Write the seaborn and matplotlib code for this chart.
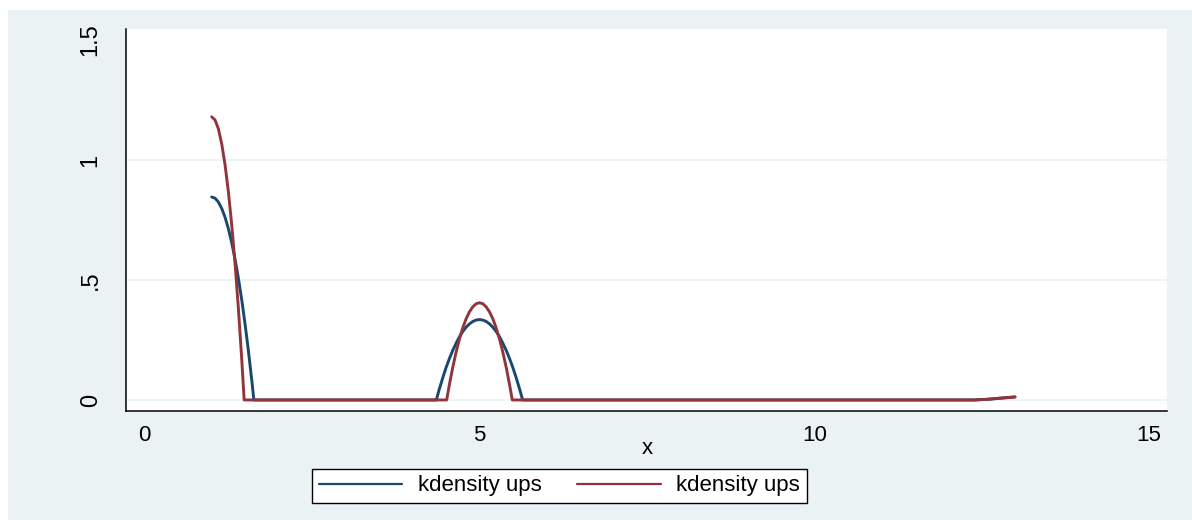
import matplotlib
matplotlib.use("Agg")
import matplotlib.pyplot as plt
from matplotlib.patches import Rectangle
from matplotlib.lines import Line2D
import seaborn as sns
import pandas as pd

# ---- data ----
blue_x = [1.00, 1.05, 1.10, 1.15, 1.20, 1.25, 1.30, 1.35, 1.40, 1.45, 1.50, 1.55, 1.60, 1.63,
          4.355, 4.40, 4.45, 4.50, 4.55, 4.60, 4.65, 4.70, 4.75, 4.80, 4.85, 4.90, 4.95, 5.00,
          5.05, 5.10, 5.15, 5.20, 5.25, 5.30, 5.35, 5.40, 5.45, 5.50, 5.55, 5.60, 5.645,
          12.40, 12.60, 12.80, 13.00]
blue_y = [0.846, 0.841, 0.825, 0.798, 0.761, 0.713, 0.654, 0.585, 0.505, 0.415, 0.313, 0.201, 0.079, 0.0,
          0.0, 0.045, 0.091, 0.134, 0.172, 0.206, 0.236, 0.263, 0.285, 0.303, 0.317, 0.327, 0.333, 0.335,
          0.333, 0.327, 0.317, 0.303, 0.285, 0.263, 0.236, 0.206, 0.172, 0.134, 0.091, 0.045, 0.0,
          0.0, 0.003, 0.008, 0.013]

red_x = [1.00, 1.05, 1.10, 1.15, 1.20, 1.25, 1.30, 1.35, 1.40, 1.45, 1.485,
         4.51, 4.55, 4.60, 4.65, 4.70, 4.75, 4.80, 4.85, 4.90, 4.95, 5.00,
         5.05, 5.10, 5.15, 5.20, 5.25, 5.30, 5.35, 5.40, 5.45, 5.49,
         12.40, 12.60, 12.80, 13.00]
red_y = [1.180, 1.167, 1.130, 1.067, 0.979, 0.866, 0.728, 0.565, 0.377, 0.165, 0.0,
         0.0, 0.063, 0.135, 0.198, 0.253, 0.300, 0.338, 0.367, 0.388, 0.401, 0.405,
         0.401, 0.388, 0.367, 0.338, 0.300, 0.253, 0.198, 0.135, 0.063, 0.0,
         0.0, 0.003, 0.008, 0.012]

series_labels = ["kdensity ups", "kdensity ups"]
x_ticks = [0, 5, 10, 15]
x_tick_labels = ["0", "5", "10", "15"]
y_ticks = [0, 0.5, 1, 1.5]
y_tick_labels = ["0", ".5", "1", "1.5"]
x_label = "x"

# ---- style ----
sns.set_style("white")
plt.rcParams["font.family"] = ["Liberation Sans", "DejaVu Sans"]
plt.rcParams["text.color"] = "black"
plt.rcParams["xtick.color"] = "black"
plt.rcParams["ytick.color"] = "black"
plt.rcParams["axes.labelcolor"] = "black"

NAVY = "#1A476F"
MAROON = "#90353B"
BG = "#EAF2F3"

W, H = 1192, 520
fig = plt.figure(figsize=(W / 100, H / 100), dpi=100, facecolor="white")
fig.patches.append(Rectangle((8 / W, 0), (W - 8) / W, (H - 10) / H,
                             transform=fig.transFigure, facecolor=BG,
                             edgecolor="none", zorder=-10))

ax = fig.add_axes([126 / W, 109 / H, (1167 - 126) / W, (411 - 29) / H])
ax.set_facecolor("white")

for v in [0, 0.5, 1]:
    ax.axhline(v, color=BG, lw=1.2, zorder=0)

df_b = pd.DataFrame({"x": blue_x, "y": blue_y})
df_r = pd.DataFrame({"x": red_x, "y": red_y})
sns.lineplot(data=df_b, x="x", y="y", color=NAVY, lw=2.1, sort=False,
             estimator=None, ax=ax, legend=False)
sns.lineplot(data=df_r, x="x", y="y", color=MAROON, lw=2.1, sort=False,
             estimator=None, ax=ax, legend=False)

ax.set_xlim(-0.28, 15.27)
ax.set_ylim(-0.046, 1.546)
ax.set_xticks(x_ticks)
ax.set_xticklabels(x_tick_labels, fontsize=16)
ax.set_yticks(y_ticks)
ax.set_yticklabels(y_tick_labels, fontsize=17, rotation=90, va="center")
ax.tick_params(axis="x", direction="out", length=5, width=1, color="black", pad=5)
ax.tick_params(axis="y", direction="out", length=8.5, width=1, color="black", pad=9)

ax.set_xlabel("")
ax.set_ylabel("")
fig.text(647 / W, 1 - 449 / H, x_label, ha="center", va="center", fontsize=16)

for s in ["top", "right"]:
    ax.spines[s].set_visible(False)
for s in ["left", "bottom"]:
    ax.spines[s].set_color("black")
    ax.spines[s].set_linewidth(1.1)

handles = [Line2D([0], [0], color=NAVY, lw=1.6), Line2D([0], [0], color=MAROON, lw=1.6)]
leg = fig.legend(handles, series_labels, ncol=2, loc="center",
                 bbox_to_anchor=(559.5 / W, 1 - 486 / H), fontsize=16,
                 frameon=True, fancybox=False, handlelength=3.75,
                 handletextpad=0.7, columnspacing=1.6, borderpad=0.3)
leg.get_frame().set_edgecolor("black")
leg.get_frame().set_linewidth(1.0)
leg.get_frame().set_facecolor("white")
leg.get_frame().set_alpha(1)

fig.savefig("out.png", dpi=100, facecolor=fig.get_facecolor())
